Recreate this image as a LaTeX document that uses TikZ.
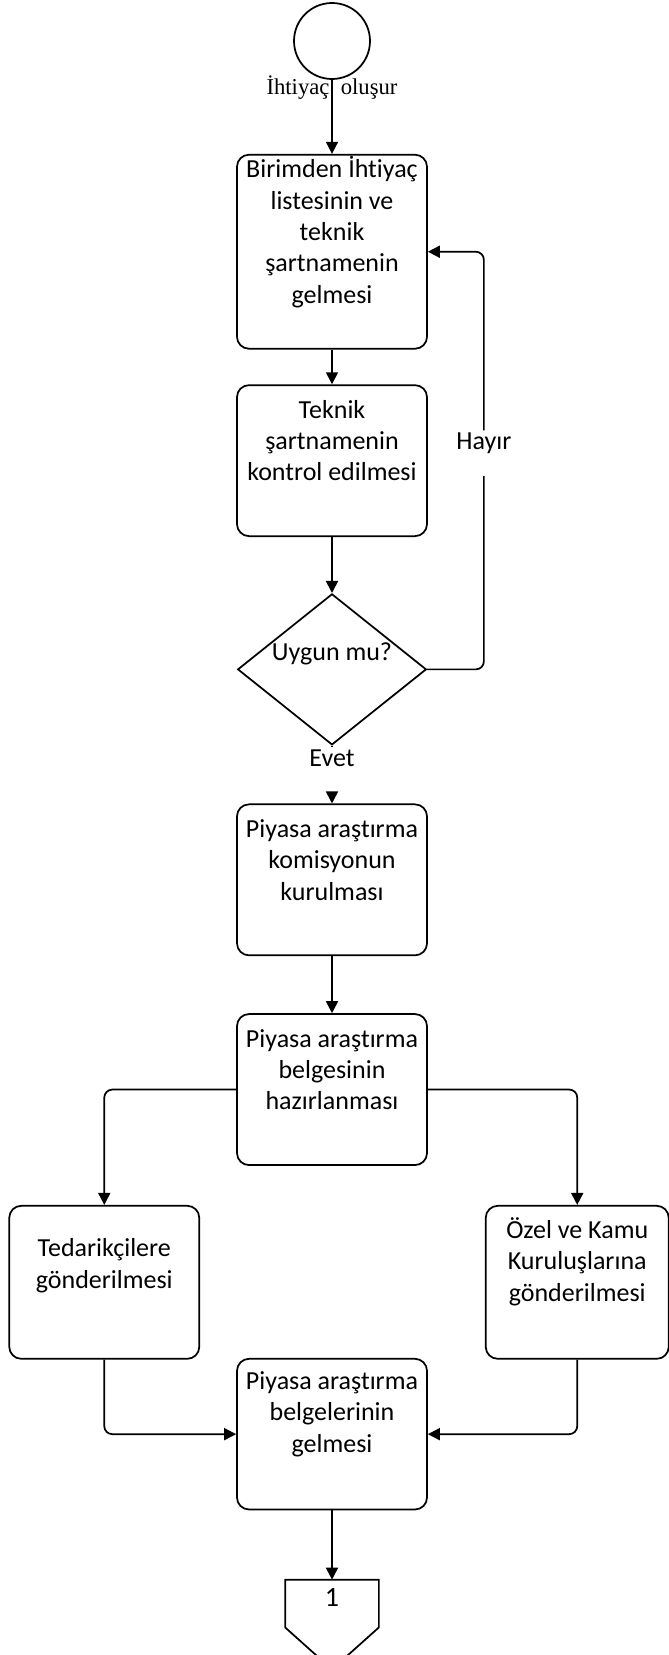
\documentclass[tikz,border=0pt]{standalone}
\usepackage{fontspec}
\setmainfont{Carlito}[Ligatures=NoCommon]
\newfontfamily\timesfont{Liberation Serif}
\usepackage{tikz}
\usetikzlibrary{positioning, shapes.geometric, arrows.meta}

\begin{document}
\begin{tikzpicture}[line width=1.3pt, >={Triangle[length=9pt, width=9pt]},
    font=\fontsize{19.5pt}{23.5pt}\selectfont,
    box/.style={draw, rounded corners=9pt, inner sep=0pt, text width=142.5pt, align=flush center, text height=24.75pt, text depth=88.5pt},
    cutlabel/.style={inner xsep=2pt, inner ysep=1pt, text height=13pt, text depth=18pt},
    link/.style={->, rounded corners=6pt}]
  \useasboundingbox (0,0) rectangle (501pt,-1241.25pt);
  \node[draw, circle, minimum size=57pt, inner sep=0pt] (start) at (249pt,-30.75pt) {};
  \node[below=11.25pt of start, anchor=base, font=\timesfont\fontsize{17pt}{20pt}\selectfont] (need) {İhtiyaç\enspace oluşur};
  \node[box, text height=17.25pt, text depth=128.25pt, below=55.5pt of start] (request) {Birimden İhtiyaç\\ listesinin ve\\ teknik\\ şartnamenin\\ gelmesi};
  \node[box, below=26pt of request] (check) {Teknik\\ şartnamenin\\ kontrol edilmesi};
  \node[draw, diamond, minimum width=141.5pt, minimum height=113.25pt, inner sep=0pt, text height=0pt, text depth=14pt, below=42pt of check] (uygun) {Uygun mu?};
  \node[cutlabel, below=1pt of uygun] (evet) {Evet};
  \node[cutlabel] (hayir) at ([xshift=42pt, yshift=5.5pt]check.east) {Hayır};
  \node[box, below=8pt of evet] (commission) {Piyasa araştırma\\ komisyonun\\ kurulması};
  \node[box, below=42.75pt of commission] (document) {Piyasa araştırma\\ belgesinin\\ hazırlanması};
  \node[box, text height=38.25pt, text depth=76.5pt, below left=29.25pt and 27pt of document] (suppliers) {Tedarikçilere\\ gönderilmesi};
  \node[box, text width=137.25pt, text height=24.5pt, text depth=90.25pt, below right=29.25pt and 42.75pt of document] (institutions) {Özel ve Kamu\\ Kuruluşlarına\\ gönderilmesi};
  \node[box, text height=23pt, text depth=90pt, below=144pt of document] (replies) {Piyasa araştırma\\ belgelerinin\\ gelmesi};
  \node[below=52pt of replies, minimum width=69pt, inner sep=0pt, text height=19.5pt, text depth=46.5pt, font=\fontsize{21pt}{25pt}\selectfont] (off) {1};
  \draw[line join=miter] (off.north west) -- (off.north east) -- ([yshift=31.5pt]off.south east) -- (off.south) -- ([yshift=31.5pt]off.south west) -- cycle;

  \draw[->] (start) -- (request);
  \draw[->] (request) -- (check);
  \draw[->] (check) -- (uygun);
  \draw (uygun) -- (evet);
  \draw[->] (evet) -- (commission);
  \draw[rounded corners=6pt] (uygun.east) -| (hayir);
  \draw[link] (hayir) |- (request.east);
  \draw[->] (commission) -- (document);
  \draw[link] (document.west) -| (suppliers);
  \draw[link] (document.east) -| (institutions);
  \draw[link] (suppliers) |- (replies);
  \draw[link] (institutions) |- (replies);
  \draw[->] (replies) -- (off);
\end{tikzpicture}
\end{document}
